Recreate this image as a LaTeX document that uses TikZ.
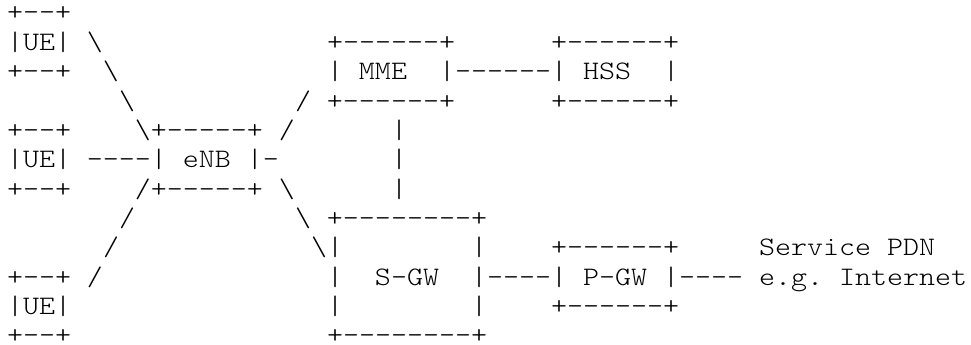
\documentclass[tikz,border=0pt]{standalone}
\usepackage{fontspec}
% light typewriter face, widened so that one column is 16pt wide
\setmonofont{lmmonolt10-regular.otf}[FakeStretch=1.1428]
\begin{document}
\frenchspacing
\begin{tikzpicture}[x=1pt,y=-1pt,
  asciirow/.style={anchor=base west,inner sep=0pt,outer sep=0pt,
    font=\ttfamily\fontsize{26.67pt}{29.36pt}\selectfont}]
  \useasboundingbox (0,0) rectangle (971,345);
  % one node per text line of the network sketch; column 0 starts at x=7
  \def\bs{\textbackslash{}}
  \node[asciirow] (row1)  at (7, 21.00) {+--+};
  \node[asciirow] (row2)  at (7, 50.36) {|UE|~\bs~~~~~~~~~~~~~~+------+~~~~~~+------+};
  \node[asciirow] (row3)  at (7, 79.72) {+--+~~\bs~~~~~~~~~~~~~|~MME~~|------|~HSS~~|};
  \node[asciirow] (row4)  at (7,109.08) {~~~~~~~\bs~~~~~~~~~~/~+------+~~~~~~+------+};
  \node[asciirow] (row5)  at (7,138.44) {+--+~~~~\bs+-----+~/~~~~~~|};
  \node[asciirow] (row6)  at (7,167.80) {|UE|~----|~eNB~|-~~~~~~~|};
  \node[asciirow] (row7)  at (7,197.16) {+--+~~~~/+-----+~\bs~~~~~~|};
  \node[asciirow] (row8)  at (7,226.52) {~~~~~~~/~~~~~~~~~~\bs~+--------+};
  \node[asciirow] (row9)  at (7,255.88) {~~~~~~/~~~~~~~~~~~~\bs|~~~~~~~~|~~~~+------+~~~~~Service~PDN};
  \node[asciirow] (row10) at (7,285.24) {+--+~/~~~~~~~~~~~~~~|~~S-GW~~|----|~P-GW~|----~e.g.~Internet};
  \node[asciirow] (row11) at (7,314.60) {|UE|~~~~~~~~~~~~~~~~|~~~~~~~~|~~~~+------+};
  \node[asciirow] (row12) at (7,343.96) {+--+~~~~~~~~~~~~~~~~+--------+};
\end{tikzpicture}
\end{document}
